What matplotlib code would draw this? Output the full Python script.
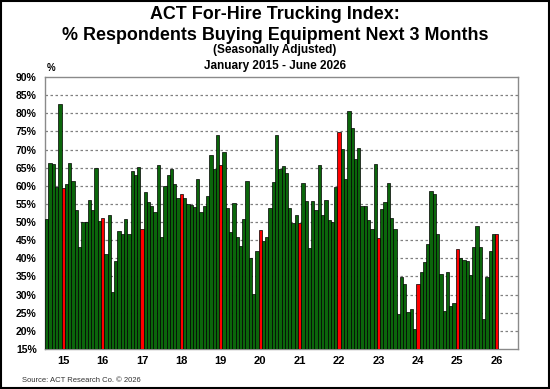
import matplotlib
matplotlib.use("Agg")
import matplotlib.pyplot as plt
from matplotlib.patches import Rectangle

plt.rcParams['font.family'] = ['Liberation Sans', 'DejaVu Sans']

# monthly values, Jan 2015 - Jun 2026 (% respondents)
values = [
    50.9, 66.4, 65.9, 59.8, 82.6, 59.4, 60.6, 66.2, 61.4, 53.3, 43.2, 49.9,
    50.0, 56.0, 53.3, 64.8, 50.2, 51.1, 41.2, 51.9, 30.6, 39.2, 47.4, 46.8,
    50.8, 46.8, 64.0, 62.9, 65.2, 48.0, 58.4, 55.4, 54.5, 52.8, 65.7, 45.9,
    60.0, 63.1, 64.6, 60.4, 56.7, 57.6, 56.7, 55.0, 54.6, 54.2, 62.0, 52.8,
    54.5, 57.2, 68.6, 64.5, 74.1, 65.7, 69.4, 53.8, 47.3, 55.2, 45.9, 43.4,
    50.8, 61.4, 40.0, 30.2, 42.0, 47.8, 44.7, 46.0, 54.0, 61.0, 73.9, 64.6,
    65.4, 63.4, 54.0, 49.6, 52.0, 49.6, 60.9, 55.7, 42.8, 55.9, 53.2, 65.6,
    51.9, 56.2, 50.5, 50.0, 59.7, 74.9, 70.2, 61.9, 80.6, 75.9, 67.4, 70.4,
    54.4, 54.4, 50.5, 48.1, 65.9, 45.5, 53.6, 55.4, 60.7, 51.0, 48.1, 24.6,
    34.9, 32.8, 25.3, 26.0, 20.6, 32.8, 36.1, 39.1, 44.0, 58.5, 57.6, 46.7,
    35.6, 25.6, 36.3, 26.9, 27.8, 42.6, 40.2, 39.6, 39.3, 35.4, 43.1, 49.0,
    43.1, 23.2, 34.9, 42.0, 46.7, 46.7,
]
year_labels = ['15', '16', '17', '18', '19', '20', '21', '22', '23', '24', '25', '26']
y_ticks = list(range(15, 95, 5))

x = list(range(len(values)))
# June of every year is highlighted in red
colors = ['#ff0000' if i % 12 == 5 else '#0b660b' for i in x]

fig = plt.figure(figsize=(5.5, 3.89), dpi=100)
ax = fig.add_axes([0.082, 0.103, 0.86, 0.699])

ax.bar(x, [v - 15 for v in values], bottom=15, width=1.0, color=colors,
       edgecolor='black', linewidth=0.5, zorder=3)

ax.set_xlim(-0.5, 143.5)
ax.set_ylim(15, 90)
ax.set_yticks(y_ticks)
ax.set_yticklabels([f'{t}%' for t in y_ticks], fontsize=7.5, fontweight='bold')
ax.set_xticks([5 + 12 * k for k in range(len(year_labels))])
ax.set_xticklabels(year_labels, fontsize=8, fontweight='bold')
ax.tick_params(length=0, pad=6)
ax.tick_params(axis='x', pad=5)

for t in y_ticks[1:-1]:
    ax.axhline(t, color='#808080', linestyle=(0, (2, 2)), linewidth=0.9, zorder=1)

for s in ax.spines.values():
    s.set_color('#8a8a8a')
    s.set_linewidth(1.0)

fig.text(0.5, 0.963, 'ACT For-Hire Trucking Index:', ha='center', va='center',
         fontsize=12.9, fontweight='bold')
fig.text(0.5, 0.909, '% Respondents Buying Equipment Next 3 Months', ha='center',
         va='center', fontsize=12.9, fontweight='bold')
fig.text(0.5, 0.871, '(Seasonally Adjusted)', ha='center', va='center',
         fontsize=8.5, fontweight='bold')
fig.text(0.5, 0.830, 'January 2015 - June 2026', ha='center', va='center',
         fontsize=8.5, fontweight='bold')
fig.text(0.092, 0.826, '%', ha='center', va='center', fontsize=7, fontweight='bold')
fig.text(0.04, 0.023, 'Source: ACT Research Co. \u00a9 2026', ha='left', va='center',
         fontsize=5.5, color='#333333')

fig.patches.append(Rectangle((0.002, 0.003), 0.996, 0.994, transform=fig.transFigure,
                             fill=False, edgecolor='black', linewidth=1.5))

fig.savefig('out.png', dpi=100)
